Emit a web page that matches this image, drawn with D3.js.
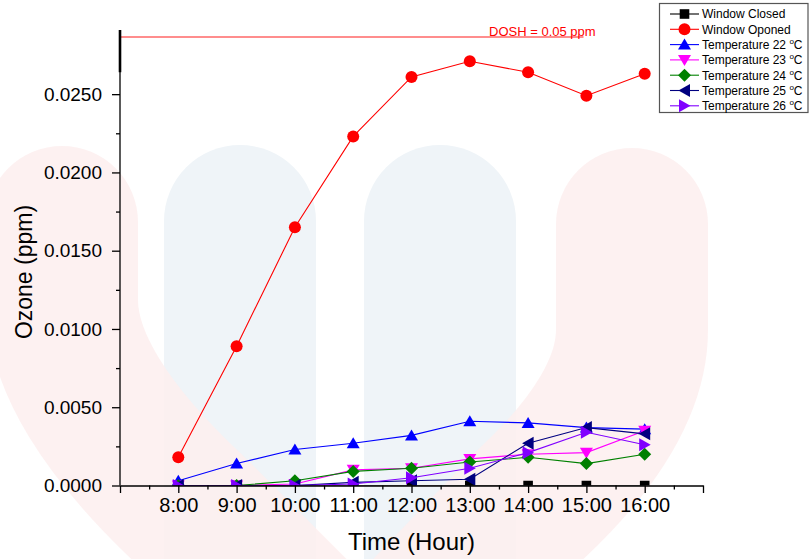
<!DOCTYPE html>
<html>
<head>
<meta charset="utf-8">
<script src="https://cdn.jsdelivr.net/npm/d3@7"></script>
<style>
  body { margin: 0; background: #fff; }
  svg { display: block; }
  text { font-family: "Liberation Sans", Arial, Helvetica, sans-serif; }
</style>
</head>
<body>
<svg id="chart" width="810" height="559"></svg>
<script>
// Hourly ozone readings (ppm)
const hours = [8, 9, 10, 11, 12, 13, 14, 15, 16];
const hourLabels = ["8:00", "9:00", "10:00", "11:00", "12:00", "13:00", "14:00", "15:00", "16:00"];

const windowClosed = [0, 0, 0, 0, 0, 0, 0, 0, 0];
const windowOpened = [0.0018, 0.0089, 0.0165, 0.0223, 0.0261, 0.0271, 0.0264, 0.0249, 0.0263];
const temp22 = [0.0003, 0.0014, 0.0023, 0.0027, 0.0032, 0.0041, 0.0040, 0.0037, 0.0036];
const temp23 = [0.0000, 0.0000, 0.0001, 0.0010, 0.0011, 0.0017, 0.0020, 0.0021, 0.0035];
const temp24 = [0.0000, 0.0000, 0.0003, 0.0009, 0.0011, 0.0015, 0.0018, 0.0014, 0.0020];
const temp25 = [0.0000, 0.0000, 0.0000, 0.0002, 0.0003, 0.0004, 0.0027, 0.0037, 0.0033];
const temp26 = [0.0000, 0.0000, 0.0000, 0.0001, 0.0005, 0.0011, 0.0021, 0.0034, 0.0026];

const seriesNames = ["Window Closed", "Window Oponed", "Temperature 22", "Temperature 23",
                     "Temperature 24", "Temperature 25", "Temperature 26"];
const seriesValues = [windowClosed, windowOpened, temp22, temp23, temp24, temp25, temp26];
const seriesColors = ["#000000", "#ff0000", "#0000ff", "#ff00ff", "#008000", "#000080", "#8000ff"];
const seriesShapes = ["square", "circle", "triUp", "triDown", "diamond", "triLeft", "triRight"];

const yMajorTicks = [0, 0.005, 0.010, 0.015, 0.020, 0.025];
const yMinorTicks = [0.0025, 0.0075, 0.0125, 0.0175, 0.0225];

// DOSH limit, drawn above the broken top of the axis
const doshLimit = 0.05;
const doshLabel = "DOSH = 0.05 ppm";
const doshLineEndHour = 14.95;
const doshLabelHour = 13.33;
const axisBreakFrom = 0.0264;

const svg = d3.select("#chart");

// Scales: linear up to 0.028, then a compressed segment up to the DOSH limit
const x = d3.scaleLinear().domain([7, 17]).range([120, 703]);
const y = d3.scaleLinear().domain([0, 0.028, doshLimit]).range([485.5, 47.2, 37]);

// Faint background emblem
const bg = svg.append("g");
[164, 364].forEach(px => {
  bg.append("rect").attr("x", px).attr("y", 145).attr("width", 152).attr("height", 520)
    .attr("rx", 76).attr("fill", "rgb(239,244,248)");
});
[
  "M62,222 L62,300 Q62,390 190,510 L300,620",
  "M632,224 L632,330 Q632,410 530,505 L420,620"
].forEach(d => {
  bg.append("path").attr("d", d)
    .attr("fill", "none").attr("stroke", "rgb(253,238,238)").attr("stroke-opacity", 0.85)
    .attr("stroke-width", 152).attr("stroke-linecap", "round");
});

// Marker shapes
function shapePath(kind) {
  const p = d3.path();
  switch (kind) {
    case "square": p.rect(-4.8, -4.8, 9.6, 9.6); break;
    case "circle": p.arc(0, 0, 6, 0, 2 * Math.PI); break;
    case "triUp": p.moveTo(0, -6); p.lineTo(6.5, 5); p.lineTo(-6.5, 5); p.closePath(); break;
    case "triDown": p.moveTo(0, 6); p.lineTo(6.5, -5); p.lineTo(-6.5, -5); p.closePath(); break;
    case "triLeft": p.moveTo(-6, 0); p.lineTo(5.5, -6.5); p.lineTo(5.5, 6.5); p.closePath(); break;
    case "triRight": p.moveTo(6, 0); p.lineTo(-5.5, -6.5); p.lineTo(-5.5, 6.5); p.closePath(); break;
    case "diamond": p.moveTo(0, -6.5); p.lineTo(6.5, 0); p.lineTo(0, 6.5); p.lineTo(-6.5, 0); p.closePath(); break;
  }
  return p.toString();
}

// Plot clipping to the frame
svg.append("defs").append("clipPath").attr("id", "plotClip")
  .append("rect")
  .attr("x", x(7)).attr("y", y(doshLimit) - 10)
  .attr("width", x(17) - x(7) + 10).attr("height", y(0) - y(doshLimit) + 10);

// DOSH line and label
svg.append("line")
  .attr("x1", x(7)).attr("x2", x(doshLineEndHour))
  .attr("y1", y(doshLimit)).attr("y2", y(doshLimit))
  .attr("stroke", "#ff0000").attr("stroke-opacity", 0.6).attr("stroke-width", 1.5);
svg.append("text")
  .attr("x", x(doshLabelHour)).attr("y", y(doshLimit) - 1.5)
  .attr("fill", "#ff0000").attr("font-size", 13)
  .text(doshLabel);

// Series
const plot = svg.append("g").attr("clip-path", "url(#plotClip)");
const line = d3.line().x((d, i) => x(hours[i])).y(d => y(d));
seriesValues.forEach((vals, k) => {
  const g = plot.append("g");
  g.append("path").attr("d", line(vals)).attr("fill", "none")
    .attr("stroke", seriesColors[k]).attr("stroke-width", 1.1);
  g.selectAll("path.m").data(vals).join("path").attr("class", "m")
    .attr("d", shapePath(seriesShapes[k]))
    .attr("transform", (d, i) => `translate(${x(hours[i])},${y(d)})`)
    .attr("fill", seriesColors[k]);
});

// Axes
function styleAxis(g, fontSize) {
  g.attr("font-family", null).attr("font-size", null);
  g.selectAll(".tick line").attr("stroke", "#000").attr("stroke-width", 1.3);
  g.selectAll(".tick text").attr("fill", "#000").attr("font-size", fontSize);
}

// Y axis
const yAxisG = svg.append("g").attr("transform", `translate(${x(7)},0)`)
  .call(d3.axisLeft(y).tickValues(yMajorTicks).tickSize(8).tickPadding(10)
    .tickFormat(d3.format(".4f")));
yAxisG.select(".domain").remove();
styleAxis(yAxisG, 19);
const yMinorG = svg.append("g").attr("transform", `translate(${x(7)},0)`)
  .call(d3.axisLeft(y).tickValues(yMinorTicks).tickSize(4).tickFormat(""));
yMinorG.select(".domain").remove();
styleAxis(yMinorG, 19);
svg.append("line")
  .attr("x1", x(7)).attr("x2", x(7))
  .attr("y1", y(0)).attr("y2", y(doshLimit) - 7)
  .attr("stroke", "#000").attr("stroke-width", 1.3);
svg.append("line")
  .attr("x1", x(7)).attr("x2", x(7))
  .attr("y1", y(axisBreakFrom)).attr("y2", y(doshLimit) - 7)
  .attr("stroke", "#000").attr("stroke-width", 2.6);

// X axis
const hourTicks = d3.range(7, 17.5, 1);
const halfTicks = d3.range(7.5, 17, 1);
const labelOf = new Map(hours.map((h, i) => [h, hourLabels[i]]));
const xAxisG = svg.append("g").attr("transform", `translate(0,${y(0)})`)
  .call(d3.axisBottom(x).tickValues(hourTicks).tickSize(7.5).tickSizeOuter(0).tickPadding(5)
    .tickFormat(d => labelOf.get(d) || ""));
xAxisG.select(".domain").attr("stroke", "#000").attr("stroke-width", 1.3);
styleAxis(xAxisG, 20);
const xMinorG = svg.append("g").attr("transform", `translate(0,${y(0)})`)
  .call(d3.axisBottom(x).tickValues(halfTicks).tickSize(4).tickFormat(""));
xMinorG.select(".domain").remove();
styleAxis(xMinorG, 20);

// Axis titles
svg.append("text")
  .attr("x", x(12)).attr("y", 550).attr("text-anchor", "middle")
  .attr("font-size", 24).attr("fill", "#000")
  .text("Time (Hour)");
svg.append("text")
  .attr("transform", "translate(32,272) rotate(-90)")
  .attr("text-anchor", "middle").attr("font-size", 23).attr("fill", "#000")
  .text("Ozone (ppm)");

// Legend
const legend = svg.append("g");
legend.append("rect").attr("x", 659.5).attr("y", 3.5).attr("width", 148.5).attr("height", 109)
  .attr("fill", "#fff").attr("stroke", "#555").attr("stroke-width", 1.2);
seriesNames.forEach((name, k) => {
  const cy = 14 + k * 15.3;
  const row = legend.append("g").attr("transform", `translate(0,${cy})`);
  row.append("line").attr("x1", 670).attr("x2", 699).attr("y1", 0).attr("y2", 0)
    .attr("stroke", seriesColors[k]).attr("stroke-width", 1.1);
  row.append("path").attr("d", shapePath(seriesShapes[k]))
    .attr("transform", "translate(684.5,0)").attr("fill", seriesColors[k]);
  const t = row.append("text").attr("x", 702).attr("y", 4.3)
    .attr("font-size", 12).attr("fill", "#000");
  t.append("tspan").text(name);
  if (name.startsWith("Temperature")) {
    t.append("tspan").text(" ");
    t.append("tspan").attr("font-size", 8).attr("dy", -5).text("o");
    t.append("tspan").attr("dy", 5).text("C");
  }
});
</script>
</body>
</html>
